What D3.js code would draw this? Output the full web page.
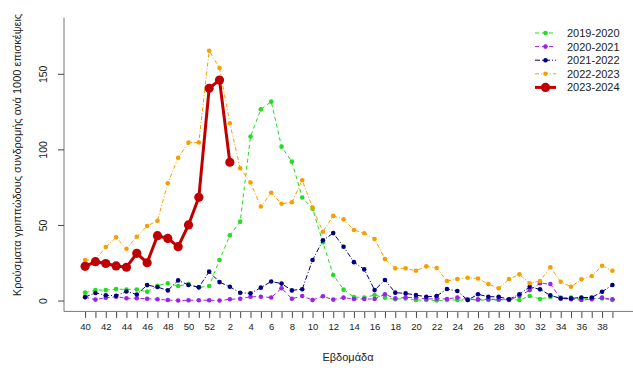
<!DOCTYPE html>
<html>
<head>
<meta charset="utf-8">
<script src="https://cdn.jsdelivr.net/npm/d3@7"></script>
<style>
  body { margin: 0; background: #fff; }
  svg { display: block; font-family: "Liberation Sans", Arial, sans-serif; }
</style>
</head>
<body>
<svg id="chart" width="633" height="370"></svg>
<script>
// Weekly ILI rate per 1000 visits, season week 40 -> week 39
const weeks = [40, 41, 42, 43, 44, 45, 46, 47, 48, 49, 50, 51, 52,
    1, 2, 3, 4, 5, 6, 7, 8, 9, 10, 11, 12, 13, 14, 15, 16, 17, 18, 19, 20,
    21, 22, 23, 24, 25, 26, 27, 28, 29, 30, 31, 32, 33, 34, 35, 36, 37, 38, 39];
const weekTicks = [40, 42, 44, 46, 48, 50, 52, 2, 4, 6, 8, 10, 12, 14, 16, 18, 20,
    22, 24, 26, 28, 30, 32, 34, 36, 38];
const yTicks = [0, 50, 100, 150];

const seasons = ['2019-2020', '2020-2021', '2021-2022', '2022-2023', '2023-2024'];

const s2019 = [5.2, 6.9, 6.9, 7.6, 7.3, 7.3, 5.8, 9.8, 11.4, 9.6, 10.9, 8.7, 9.6,
    26.8, 43.1, 52.2, 108.5, 126.5, 131.6, 101.8, 91.9, 68.2, 60.8, 38.5, 16.9, 7.2,
    2.3, 2.0, 3.6, 1.9, 0.8, 1.4, 0.3, 0.3, 0.0, 0.3, 0.3, 0.3, 0.3, 0.3, 0.3, 0.8,
    0.3, 3.0, 1.0, 2.3, 2.0, 2.0, 1.4, 1.4, 1.4, 0.3];
const s2020 = [2.1, 0.6, 1.8, 2.5, 1.5, 1.5, 1.2, 0.8, 0.3, 0.0, 0.2, 0.2, 0.2,
    0.0, 0.8, 1.2, 2.5, 2.5, 2.0, 8.1, 1.2, 3.0, 0.3, 2.8, 0.6, 1.9, 1.0, 1.0, 1.0,
    4.1, 1.4, 2.0, 2.0, 1.0, 1.2, 1.0, 2.0, 0.8, 0.8, 0.8, 0.8, 0.3, 3.0, 6.9, 11.4,
    10.9, 1.4, 0.8, 0.3, 0.8, 1.9, 0.8];
const s2021 = [2.3, 5.0, 3.5, 3.1, 6.0, 4.0, 10.2, 8.9, 6.7, 13.3, 10.3, 8.7, 19.1,
    12.2, 9.1, 5.1, 4.8, 8.5, 12.6, 11.2, 6.7, 7.5, 26.8, 39.8, 44.6, 35.6, 25.4,
    20.6, 6.9, 13.6, 5.2, 4.7, 3.6, 2.5, 3.0, 7.6, 6.3, 0.3, 4.1, 2.5, 2.5, 0.8, 4.1,
    9.1, 7.4, 3.4, 1.4, 1.4, 2.0, 2.0, 5.8, 10.3];
const s2022 = [26.8, 27.0, 35.4, 41.8, 34.3, 42.2, 49.3, 52.8, 77.6, 94.5, 104.5,
    104.6, 165.3, 153.9, 117.3, 87.5, 78.1, 62.2, 71.3, 64.0, 65.0, 79.6, 61.5, 45.5,
    56.0, 53.7, 46.7, 44.5, 40.7, 27.5, 21.3, 21.3, 19.7, 22.6, 21.5, 12.9, 14.2,
    15.1, 14.6, 10.9, 8.1, 14.2, 17.3, 11.4, 12.9, 22.0, 12.4, 9.1, 14.0, 16.2, 23.0,
    19.7];
const s2023 = [22.6, 25.7, 24.5, 22.9, 22.0, 31.2, 25.0, 42.9, 41.1, 35.6, 50.0,
    68.3, 140.4, 145.9, 91.5];

const seriesValues = [s2019, s2020, s2021, s2022, s2023];

// Look of each season's line
const styles = [
    {color: '#22dd22', dash: '4,3', width: 1, r: 2.3},
    {color: '#9a22ee', dash: '4,3', width: 1, r: 2.3},
    {color: '#000080', dash: '5,2,1,2', width: 1, r: 2.3},
    {color: '#f5a000', dash: '4,2,1,2', width: 1, r: 2.3},
    {color: '#c00000', dash: null, width: 3, r: 4.6}
];

const svg = d3.select('#chart');

// Scales (index along the season, R-style 4% padding)
const x = d3.scaleLinear()
    .domain([-2.04, weeks.length - 1 + 2.04])
    .range([64, 633.5]);

const y = d3.scaleLinear()
    .domain([-7.2, 187.2])
    .range([311.4, 17.6]);

// L-shaped frame
svg.append('path')
    .attr('d', `M${x.range()[0]},${y.range()[1]}V${y.range()[0]}H${x.range()[1]}`)
    .attr('fill', 'none')
    .attr('stroke', '#777')
    .attr('stroke-width', 1);

// X axis
const xAxis = svg.append('g')
    .attr('transform', `translate(0,${y.range()[0] + 0.5})`)
    .call(d3.axisBottom(x)
        .tickValues(weeks.map((w, i) => i))
        .tickSize(6)
        .tickFormat(i => weekTicks.includes(weeks[i]) ? weeks[i] : ''));
xAxis.select('.domain').remove();
xAxis.selectAll('line').attr('stroke', '#444');
xAxis.selectAll('text')
    .attr('fill', '#222')
    .attr('font-size', '9.5px')
    .attr('dy', '0.95em');

// Y axis, labels rotated like R
const yAxis = svg.append('g')
    .attr('transform', `translate(${x.range()[0]},0)`)
    .call(d3.axisLeft(y).tickValues(yTicks).tickSize(6));
yAxis.select('.domain').remove();
yAxis.selectAll('line').attr('stroke', '#444');
yAxis.selectAll('text')
    .attr('fill', '#222')
    .attr('font-size', '10.5px')
    .attr('x', 0)
    .attr('dy', 0)
    .attr('text-anchor', 'middle')
    .attr('transform', 'translate(-17,0) rotate(-90)');

// Axis titles
svg.append('text')
    .attr('x', 348)
    .attr('y', 361)
    .attr('text-anchor', 'middle')
    .attr('font-size', '11px')
    .attr('fill', '#222')
    .text('Εβδομάδα');

svg.append('text')
    .attr('transform', 'translate(21,155) rotate(-90)')
    .attr('text-anchor', 'middle')
    .attr('font-size', '11px')
    .attr('fill', '#222')
    .text('Κρούσματα γριππώδους συνδρομής ανά 1000 επισκέψεις');

// Season lines
const line = d3.line()
    .x((d, i) => x(i))
    .y(d => y(d));

seriesValues.forEach((vals, k) => {
    const st = styles[k];
    const g = svg.append('g').attr('class', 'season');

    g.append('path')
        .datum(vals)
        .attr('d', line)
        .attr('fill', 'none')
        .attr('stroke', st.color)
        .attr('stroke-width', st.width)
        .attr('stroke-dasharray', st.dash);

    g.selectAll('circle')
        .data(vals)
        .enter()
        .append('circle')
        .attr('cx', (d, i) => x(i))
        .attr('cy', d => y(d))
        .attr('r', st.r)
        .attr('fill', st.color);
});

// Legend
const legend = svg.append('g')
    .attr('transform', 'translate(535,33)');

const item = legend.selectAll('g')
    .data(seasons)
    .enter()
    .append('g')
    .attr('transform', (d, i) => `translate(0,${i * 13.6})`);

item.append('line')
    .attr('x1', 0)
    .attr('x2', 21)
    .attr('stroke', (d, i) => styles[i].color)
    .attr('stroke-width', (d, i) => styles[i].width)
    .attr('stroke-dasharray', (d, i) => styles[i].dash);

item.append('circle')
    .attr('cx', 10.5)
    .attr('r', (d, i) => styles[i].r)
    .attr('fill', (d, i) => styles[i].color);

item.append('text')
    .attr('x', 32)
    .attr('dy', '0.36em')
    .attr('font-size', '11px')
    .attr('fill', '#222')
    .text(d => d);
</script>
</body>
</html>
